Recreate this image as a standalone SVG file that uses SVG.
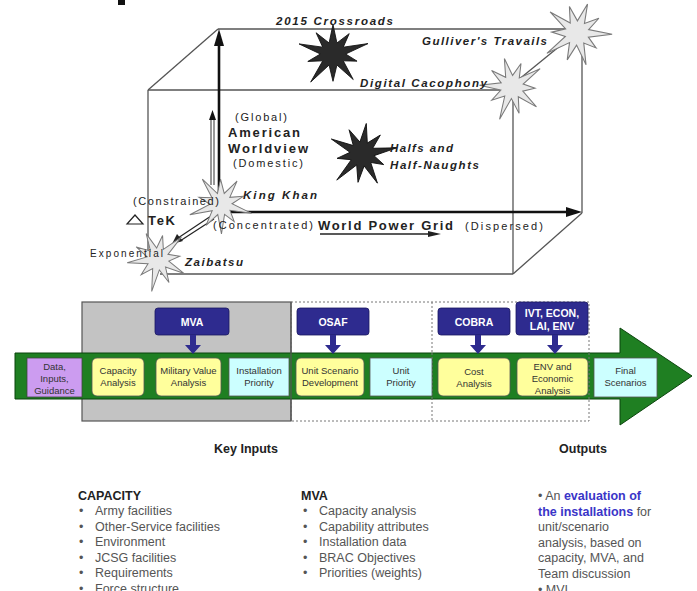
<svg xmlns="http://www.w3.org/2000/svg" xmlns:xlink="http://www.w3.org/1999/xlink" width="697" height="591" viewBox="0 0 697 591">
<style>
.t{font-family:"Liberation Sans",Arial,sans-serif;fill:#222}
.bi{font-weight:bold;font-style:italic;font-size:11.5px}
.b{font-weight:bold}
.cube{stroke:#555;stroke-width:1.3;fill:none}
.axis{stroke:#111;stroke-width:2.6;fill:none}
.dark{fill:#2a2a2a;stroke:#111;stroke-width:0.8}
.light{fill:#e8e8e8;stroke:#7a7a7a;stroke-width:1}
.box{font-family:"Liberation Sans",Arial,sans-serif;font-size:9.5px;fill:#333;text-anchor:middle}
.yel{fill:#ffff9c;stroke:#555;stroke-width:0.8}
.cy{fill:#ccffff;stroke:#555;stroke-width:0.8}
.blue{fill:#2e2b8f;stroke:#1a1860;stroke-width:0.8}
.bt{font-family:"Liberation Sans",Arial,sans-serif;font-size:10.5px;font-weight:bold;fill:#fff;text-anchor:middle}
.list{font-family:"Liberation Sans",Arial,sans-serif;font-size:12.5px;fill:#555}
.hd{font-family:"Liberation Sans",Arial,sans-serif;font-size:12.5px;font-weight:bold;fill:#222}
.navy{fill:#2e2b8f}
</style>
<defs>
<polygon id="star" points="0,-28 3.4,-10.5 14.1,-19.4 8.9,-6.5 30.4,-9.9 11,0 20.9,6.8 8.9,6.5 17.6,24.3 3.4,10.5 0,26 -3.4,10.5 -19.4,26.7 -8.9,6.5 -21.9,7.1 -11,0 -29.5,-9.6 -8.9,-6.5 -14.7,-20.2 -3.4,-10.5"/>
</defs>
<rect x="118" y="0" width="7" height="5" fill="#111"/>
<g id="cube">
<line class="cube" x1="218" y1="29" x2="577" y2="29"/>
<line class="cube" x1="148" y1="90" x2="500" y2="90"/>
<line class="cube" x1="148" y1="90" x2="218" y2="29"/>
<line class="cube" x1="512" y1="85" x2="577" y2="32"/>
<line class="cube" x1="582" y1="40" x2="582" y2="213"/>
<line class="cube" x1="513" y1="90" x2="513" y2="274"/>
<line class="cube" x1="513" y1="274" x2="582" y2="213"/>
<line class="cube" x1="160" y1="274" x2="513" y2="274"/>
<line class="cube" x1="148" y1="90" x2="148" y2="250"/>
</g>
<g id="connectors">
<line class="axis" x1="219" y1="212" x2="219" y2="42"/>
<polygon points="219,29 214,46 224,46" fill="#111"/>
<line class="axis" x1="218" y1="212" x2="568" y2="212"/>
<polygon points="582,212 566,207 566,217" fill="#111"/>
<line x1="211" y1="185" x2="211" y2="118" stroke="#333" stroke-width="1"/>
<line x1="214" y1="185" x2="214" y2="118" stroke="#333" stroke-width="1"/>
<polygon points="212.5,110 209,120 216,120" fill="#111"/>
<line x1="320" y1="234" x2="430" y2="234" stroke="#222" stroke-width="1.3"/>
<polygon points="441,234 428,231 428,237" fill="#222"/>
<line x1="211" y1="216" x2="178" y2="238" stroke="#222" stroke-width="1.2"/>
<line x1="214" y1="219" x2="180" y2="241" stroke="#222" stroke-width="1.2"/>
<polygon points="172,244 177,234 183,241" fill="#222"/>
</g>
<g id="crossroads"><use xlink:href="#star" class="dark" transform="translate(333,54) scale(1.15,1.05)"/><text class="t bi" x="276" y="25" textLength="117">2015 Crossroads</text></g>
<g id="gulliver"><use xlink:href="#star" class="light" transform="translate(577,33) rotate(20) scale(1.1)"/><text class="t bi" x="422" y="45" textLength="125">Gulliver's Travails</text></g>
<g id="digital"><use xlink:href="#star" class="light" transform="translate(512,87) rotate(-15) scale(1.05)"/><text class="t bi" x="360" y="87" textLength="127">Digital Cacophony</text></g>
<g id="halfs"><use xlink:href="#star" class="dark" transform="translate(362,154) rotate(8) scale(1.1)"/><text class="t bi" x="390" y="152" textLength="63">Halfs and</text><text class="t bi" x="390" y="169" textLength="89">Half-Naughts</text></g>
<g id="worldview"><text class="t" font-size="11" x="235" y="121" textLength="52">(Global)</text><text class="t b" font-size="13" x="228" y="137" textLength="72">American</text><text class="t b" font-size="13" x="228" y="153" textLength="80">Worldview</text><text class="t" font-size="11" x="233" y="167" textLength="70">(Domestic)</text></g>
<g id="kingkhan"><use xlink:href="#star" class="light" transform="translate(221,204) rotate(35)"/><text class="t bi" x="243" y="199" textLength="74">King Khan</text><text class="t" font-size="11" x="133" y="205" textLength="86">(Constrained)</text></g>
<g id="tek"><polygon points="135,215 127,224 143,224" fill="none" stroke="#222" stroke-width="1.2"/><text class="t b" font-size="13" x="148" y="225" textLength="27">TeK</text></g>
<g id="powergrid"><text class="t" font-size="11" x="213" y="229" textLength="100">(Concentrated)</text><text class="t b" font-size="13" x="318" y="230" textLength="135">World Power Grid</text><text class="t" font-size="11" x="465" y="230" textLength="78">(Dispersed)</text></g>
<g id="zaibatsu"><use xlink:href="#star" class="light" transform="translate(158,259) rotate(-25)"/><text class="t" font-size="10" x="90" y="257" textLength="73">Exponential</text><text class="t bi" x="185" y="266" textLength="58">Zaibatsu</text></g>

<g id="process">
<rect x="82" y="302" width="209" height="119" fill="#c3c3c3" stroke="#555" stroke-width="1.2"/>
<rect x="291" y="302" width="298" height="119" fill="none" stroke="#777" stroke-width="1" stroke-dasharray="2,2"/>
<line x1="432" y1="302" x2="432" y2="421" stroke="#777" stroke-width="1" stroke-dasharray="2,2"/>
<path d="M15,353 H620 V328 L692,376 L620,425 V399 H15 Z" fill="#1f7f22" stroke="#0b450d" stroke-width="1"/>
<line x1="291" y1="302" x2="291" y2="421" stroke="#555" stroke-width="1.2"/>
<line x1="432" y1="353" x2="432" y2="399" stroke="#777" stroke-width="1" stroke-dasharray="2,2"/>
<line x1="589" y1="353" x2="589" y2="399" stroke="#777" stroke-width="1" stroke-dasharray="2,2"/>
</g>
<g id="data"><rect x="27" y="358" width="55" height="39" fill="#cc9cf0" stroke="#444" stroke-width="0.8"/><text class="box" x="54.5" y="370">Data,</text><text class="box" x="54.5" y="382">Inputs,</text><text class="box" x="54.5" y="394">Guidance</text></g>
<g id="capacity"><rect class="yel" x="92" y="358" width="52" height="38" rx="5"/><text class="box" x="118" y="374">Capacity</text><text class="box" x="118" y="386">Analysis</text></g>
<g id="military"><rect class="yel" x="156" y="358" width="65" height="38" rx="5"/><text class="box" x="188.5" y="374">Military Value</text><text class="box" x="188.5" y="386">Analysis</text></g>
<g id="instprio"><rect class="cy" x="229" y="358" width="60" height="38"/><text class="box" x="259" y="374">Installation</text><text class="box" x="259" y="386">Priority</text></g>
<g id="unitscen"><rect class="yel" x="296" y="358" width="68" height="38" rx="5"/><text class="box" x="330" y="374">Unit Scenario</text><text class="box" x="330" y="386">Development</text></g>
<g id="unitprio"><rect class="cy" x="370" y="358" width="62" height="38"/><text class="box" x="401" y="374">Unit</text><text class="box" x="401" y="386">Priority</text></g>
<g id="cost"><rect class="yel" x="438" y="358" width="72" height="38" rx="5"/><text class="box" x="474" y="375">Cost</text><text class="box" x="474" y="387">Analysis</text></g>
<g id="env"><rect class="yel" x="517" y="358" width="71" height="38" rx="5"/><text class="box" x="552.5" y="370">ENV and</text><text class="box" x="552.5" y="382">Economic</text><text class="box" x="552.5" y="394">Analysis</text></g>
<g id="final"><rect class="cy" x="594" y="358" width="63" height="39"/><text class="box" x="625.5" y="374">Final</text><text class="box" x="625.5" y="386">Scenarios</text></g>
<g id="mva"><rect class="blue" x="155" y="308" width="74" height="27" rx="3"/><text class="bt" x="192" y="326">MVA</text></g>
<g id="osaf"><rect class="blue" x="297" y="308" width="72" height="27" rx="3"/><text class="bt" x="333" y="326">OSAF</text></g>
<g id="cobra"><rect class="blue" x="438" y="308" width="72" height="27" rx="3"/><text class="bt" x="474" y="326">COBRA</text></g>
<g id="ivt"><rect class="blue" x="516" y="302" width="72" height="33" rx="3"/><text class="bt" x="552" y="317">IVT, ECON,</text><text class="bt" x="552" y="330">LAI, ENV</text></g>
<g id="process-arrows">
<path class="navy" d="M190,335 h6 v10 h5 l-8,9 l-8,-9 h5 Z"/>
<path class="navy" d="M330,335 h6 v10 h5 l-8,9 l-8,-9 h5 Z"/>
<path class="navy" d="M475,335 h6 v10 h5 l-8,9 l-8,-9 h5 Z"/>
<path class="navy" d="M552,335 h6 v10 h5 l-8,9 l-8,-9 h5 Z"/>
</g>
<g id="keyinputs"><text class="hd" x="246" y="453" text-anchor="middle">Key Inputs</text></g>
<g id="outputs"><text class="hd" x="583" y="453" text-anchor="middle">Outputs</text></g>
<g id="capacity-list">
<text class="hd" x="78" y="500">CAPACITY</text>
<text class="list"><tspan x="79" y="515">•</tspan><tspan x="95" y="515">Army facilities</tspan><tspan x="79" y="531">•</tspan><tspan x="95" y="531">Other-Service facilities</tspan><tspan x="79" y="546">•</tspan><tspan x="95" y="546">Environment</tspan><tspan x="79" y="562">•</tspan><tspan x="95" y="562">JCSG facilities</tspan><tspan x="79" y="577">•</tspan><tspan x="95" y="577">Requirements</tspan><tspan x="79" y="593">•</tspan><tspan x="95" y="593">Force structure</tspan></text>
</g>
<g id="mva-list">
<text class="hd" x="301" y="500">MVA</text>
<text class="list"><tspan x="303" y="515">•</tspan><tspan x="319" y="515">Capacity analysis</tspan><tspan x="303" y="531">•</tspan><tspan x="319" y="531">Capability attributes</tspan><tspan x="303" y="546">•</tspan><tspan x="319" y="546">Installation data</tspan><tspan x="303" y="562">•</tspan><tspan x="319" y="562">BRAC Objectives</tspan><tspan x="303" y="577">•</tspan><tspan x="319" y="577">Priorities (weights)</tspan></text>
</g>
<g id="outputs-list">
<text class="list" font-size="13"><tspan x="538" y="500">• An </tspan><tspan fill="#3a35c8" font-weight="bold">evaluation of</tspan><tspan x="538" y="516" fill="#3a35c8" font-weight="bold">the installations</tspan><tspan> for</tspan><tspan x="538" y="531">unit/scenario</tspan><tspan x="538" y="547">analysis, based on</tspan><tspan x="538" y="562">capacity, MVA, and</tspan><tspan x="538" y="578">Team discussion</tspan><tspan x="538" y="594">• MVI</tspan></text>
</g>
</svg>
